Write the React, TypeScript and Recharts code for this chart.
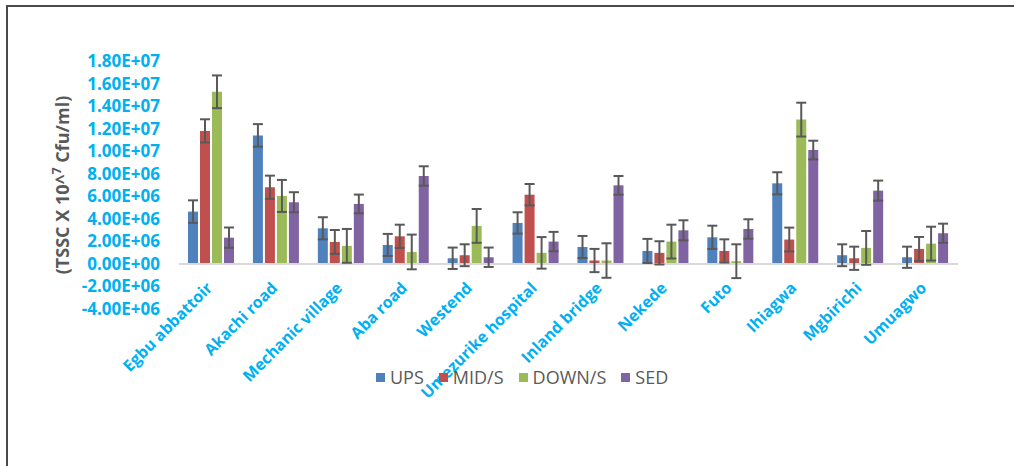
import { BarChart, Bar, XAxis, YAxis, ErrorBar, Legend, ReferenceLine } from 'recharts'

const categories = [
  'Egbu abbattoir', 'Akachi road', 'Mechanic village', 'Aba road', 'Westend', 'Umezurike hospital',
  'Inland bridge', 'Nekede', 'Futo', 'Ihiagwa', 'Mgbirichi', 'Umuagwo',
]

const ups = [4.64e6, 1.14e7, 3.16e6, 1.68e6, 0.5e6, 3.63e6, 1.5e6, 1.15e6, 2.36e6, 7.15e6, 0.77e6, 0.59e6]
const upsErr = [1.0e6, 1.0e6, 0.98e6, 0.98e6, 0.95e6, 0.95e6, 0.98e6, 1.07e6, 1.03e6, 0.98e6, 0.97e6, 0.94e6]
const mid = [1.18e7, 6.8e6, 1.95e6, 2.45e6, 0.77e6, 6.14e6, 0.3e6, 0.98e6, 1.15e6, 2.16e6, 0.5e6, 1.33e6]
const midErr = [1.03e6, 1.03e6, 1.06e6, 1.03e6, 0.97e6, 0.95e6, 1.03e6, 1.03e6, 1.03e6, 1.06e6, 1.03e6, 1.06e6]
const down = [1.527e7, 6.03e6, 1.6e6, 1.06e6, 3.37e6, 0.98e6, 0.3e6, 1.98e6, 0.24e6, 1.28e7, 1.42e6, 1.8e6]
const downErr = [1.45e6, 1.42e6, 1.5e6, 1.54e6, 1.5e6, 1.4e6, 1.53e6, 1.5e6, 1.5e6, 1.5e6, 1.5e6, 1.5e6]
const sed = [2.33e6, 5.47e6, 5.32e6, 7.8e6, 0.59e6, 1.98e6, 6.97e6, 2.98e6, 3.1e6, 1.01e7, 6.5e6, 2.72e6]
const sedErr = [0.9e6, 0.89e6, 0.83e6, 0.86e6, 0.86e6, 0.86e6, 0.83e6, 0.89e6, 0.86e6, 0.83e6, 0.89e6, 0.85e6]

const yTicks = [-4e6, -2e6, 0, 2e6, 4e6, 6e6, 8e6, 1e7, 1.2e7, 1.4e7, 1.6e7, 1.8e7]

const series = [
  { key: 'ups', err: 'upsErr', name: 'UPS', color: '#4F81BD' },
  { key: 'mid', err: 'midErr', name: 'MID/S', color: '#C0504D' },
  { key: 'down', err: 'downErr', name: 'DOWN/S', color: '#9BBB59' },
  { key: 'sed', err: 'sedErr', name: 'SED', color: '#8064A2' },
]

const data = categories.map((name, i) => ({
  name,
  ups: ups[i], upsErr: upsErr[i],
  mid: mid[i], midErr: midErr[i],
  down: down[i], downErr: downErr[i],
  sed: sed[i], sedErr: sedErr[i],
}))

const FONT = '"Open Sans", "Liberation Sans", sans-serif'
const BLUE = '#00B0F0'

// excel style 1.80E+07
function sci(v: number) {
  const [m, e] = v.toExponential(2).split('e')
  const n = Math.abs(parseInt(e, 10))
  const sign = e.startsWith('-') ? '-' : '+'
  return `${m.toUpperCase()}E${sign}${n < 10 ? '0' + n : n}`
}

function XTick(props: any) {
  const { x, y, payload } = props
  return (
    <g transform={`translate(${x + 2},${y - 20})`}>
      <text textAnchor="end" transform="rotate(-45)" fill={BLUE} fontWeight={700} fontSize={16} fontFamily={FONT}>
        {payload.value}
      </text>
    </g>
  )
}

function YLabel() {
  const cx = 62
  const cy = 185
  return (
    <text
      x={cx}
      y={cy}
      transform={`rotate(-90, ${cx}, ${cy})`}
      textAnchor="middle"
      dominantBaseline="central"
      fill="#595959"
      fontWeight={700}
      fontSize={18}
      fontFamily={FONT}
    >
      (TSSC X 10^<tspan fontSize={12} dy={-6}>7</tspan>
      <tspan dy={6}> Cfu/ml)</tspan>
    </text>
  )
}

function LegendContent() {
  return (
    <div style={{ display: 'flex', alignItems: 'center', fontFamily: FONT, fontSize: 18, color: '#595959' }}>
      {series.map(s => (
        <div key={s.key} style={{ display: 'flex', alignItems: 'center', marginRight: 15 }}>
          <span style={{ width: 9, height: 9, background: s.color, display: 'inline-block', marginRight: 5 }} />
          <span>{s.name}</span>
        </div>
      ))}
    </div>
  )
}

export default function App() {
  return (
    <div style={{ position: 'absolute', left: 0, top: 0, width: 1014, height: 466, overflow: 'hidden', background: '#fff' }}>
      <div
        style={{
          position: 'absolute', left: 6, top: 5, width: 1100, height: 600,
          borderTop: '2px solid #4a4a4a', borderLeft: '2px solid #4a4a4a',
        }}
      />
      <BarChart
        width={1014}
        height={466}
        data={data}
        margin={{ top: 61, right: 56, bottom: 0, left: 0 }}
        barSize={10}
        barGap={2}
        style={{ position: 'absolute', left: 0, top: 0 }}
      >
        <XAxis
          dataKey="name"
          height={157}
          interval={0}
          axisLine={false}
          tickLine={false}
          tickSize={0}
          tickMargin={0}
          tick={<XTick />}
        />
        <YAxis
          width={179}
          domain={[-4e6, 1.8e7]}
          ticks={yTicks}
          interval={0}
          tickFormatter={sci}
          axisLine={false}
          tickLine={false}
          tickSize={0}
          tickMargin={19}
          tick={{ fill: BLUE, fontWeight: 700, fontSize: 17, fontFamily: FONT }}
          label={<YLabel />}
        />
        <ReferenceLine y={0} stroke="#D9D9D9" strokeWidth={2} />
        {series.map(s => (
          <Bar key={s.key} dataKey={s.key} name={s.name} fill={s.color} isAnimationActive={false}>
            <ErrorBar dataKey={s.err} width={5} stroke="#595959" strokeWidth={2} isAnimationActive={false} />
          </Bar>
        ))}
        <Legend
          layout="horizontal"
          verticalAlign="middle"
          align="center"
          content={<LegendContent />}
          wrapperStyle={{ top: 365, left: 376, width: 340, height: 24 }}
        />
      </BarChart>
    </div>
  )
}
